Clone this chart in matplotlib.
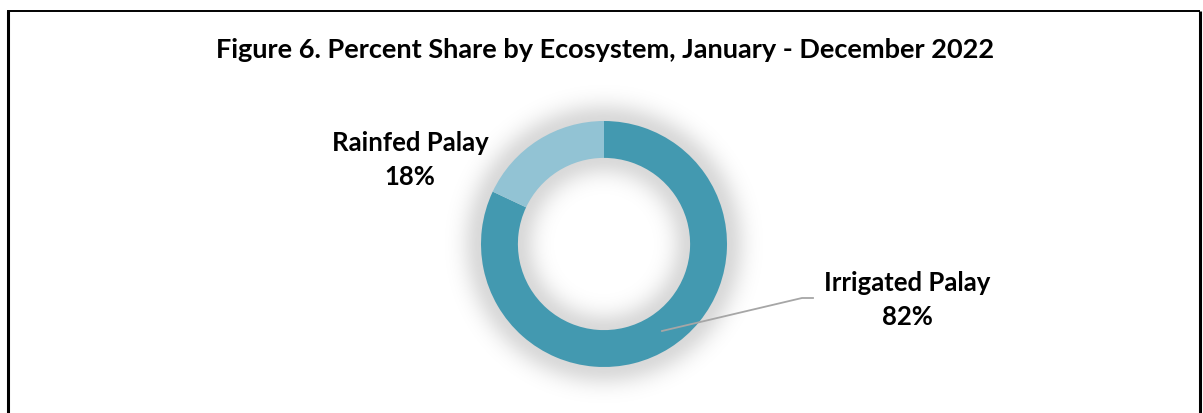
import numpy as np
import matplotlib.pyplot as plt

labels = ['Irrigated Palay', 'Rainfed Palay']
shares = [82, 18]
colors = ['#4399B0', '#92C3D4']

W, H = 1203, 413
cx, cy = 604, H - 244
R = 123
ring = 0.30

plt.rcParams['font.family'] = ['Lato', 'DejaVu Sans']

fig = plt.figure(figsize=(W / 100, H / 100), dpi=100)
ax = fig.add_axes([0, 0, 1, 1])

# soft glow around the doughnut
yy, xx = np.mgrid[0:H, 0:W]
d = np.hypot(xx + 0.5 - cx, (H - yy - 0.5) - cy)
r_in = R * (1 - ring)
dist = np.where(d > R, d - R, np.where(d < r_in, r_in - d, 0))
alpha = 0.15 * np.exp(-(dist / 19.0) ** 2)
img = np.zeros((H, W, 4))
img[..., 3] = alpha
ax.imshow(img, extent=(0, W, 0, H), zorder=0, interpolation='bilinear')

ax.pie(shares, colors=colors, startangle=90, counterclock=False,
       radius=R, center=(cx, cy), frame=True,
       wedgeprops=dict(width=R * ring, linewidth=0))

ax.set_xlim(0, W)
ax.set_ylim(0, H)
ax.set_aspect('auto')
ax.axis('off')

# frame lines (bottom cut off in the source)
ax.plot([8, 8], [0, H - 11], color='black', lw=2.2, solid_capstyle='butt')
ax.plot([7, 1200], [H - 11, H - 11], color='black', lw=1.4, solid_capstyle='butt')
ax.plot([1199.5, 1199.5], [0, H - 11], color='black', lw=2.2, solid_capstyle='butt')

ax.text(605, H - 50, 'Figure 6. Percent Share by Ecosystem, January - December 2022',
        ha='center', va='center', fontsize=19.5, fontweight='bold')

# leader line for irrigated
ax.plot([662, 802, 813], [H - 331, H - 298, H - 298], color='#A6A6A6', lw=1.3)

lab = [f'{l}\n{v}%' for l, v in zip(labels, shares)]
ax.text(907, H - 300, lab[0], ha='center', va='center', fontsize=18.5,
        fontweight='bold', linespacing=1.5)
ax.text(410, H - 160, lab[1], ha='center', va='center', fontsize=18.5,
        fontweight='bold', linespacing=1.5)

fig.savefig('out.png', dpi=100)
